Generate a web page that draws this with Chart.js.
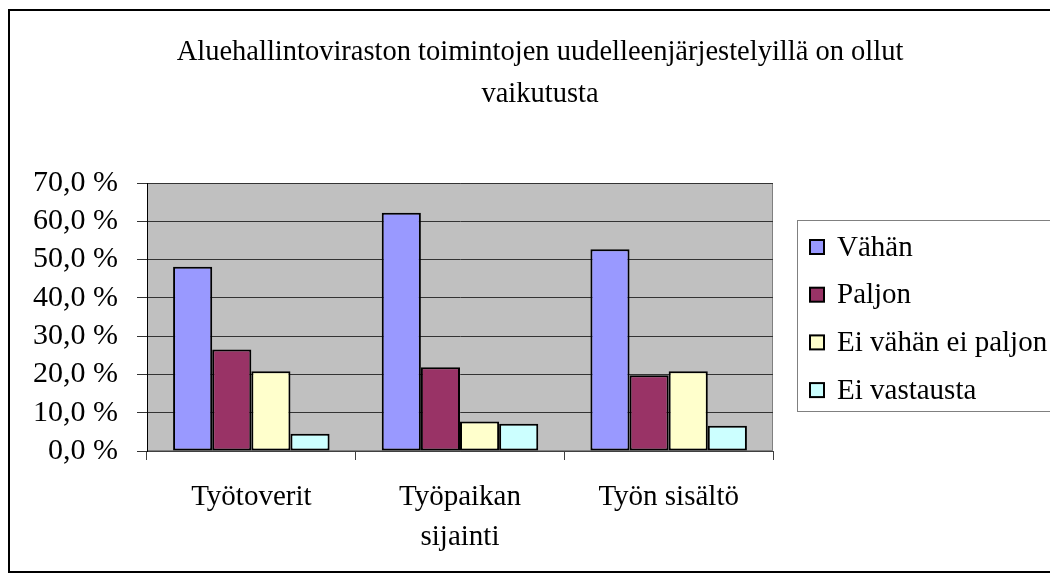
<!DOCTYPE html>
<html>
<head>
<meta charset="utf-8">
<script src="https://cdn.jsdelivr.net/npm/chart.js@4.4.0/dist/chart.umd.min.js"></script>
<style>
  html, body { margin: 0; padding: 0; background: #fff; overflow: hidden; }
  #frame { position: absolute; left: 8px; top: 9px; width: 1100px; height: 560px; border: 2px solid #000; }
  #wrap { position: absolute; left: 0; top: 0; width: 1064px; height: 560px; }
</style>
</head>
<body>
<div id="frame"><div id="wrap"><canvas id="chart"></canvas></div></div>
<script>
// Kategoriat ja sarjat
const categories = ['Työtoverit', ['Työpaikan', 'sijainti'], 'Työn sisältö'];
const seriesNames = ['Vähän', 'Paljon', 'Ei vähän ei paljon', 'Ei vastausta'];
const vahan = [48.1, 62.2, 52.7];
const paljon = [26.5, 21.9, 19.8];
const eiVahanEiPaljon = [20.8, 7.7, 20.8];
const eiVastausta = [4.5, 7.1, 6.6];
const yTicks = [0, 10, 20, 30, 40, 50, 60, 70];
const titleLines = ['Aluehallintoviraston toimintojen uudelleenjärjestelyillä on ollut', 'vaikutusta'];

const colors = ['#9999FF', '#993366', '#FFFFCC', '#CCFFFF'];
const serif = '"Liberation Serif", "Times New Roman", serif';

// Harmaa piirtoalue
const plotBg = {
  id: 'plotBg',
  beforeDraw(chart) {
    const a = chart.chartArea, ctx = chart.ctx;
    ctx.save();
    ctx.fillStyle = '#C0C0C0';
    ctx.fillRect(a.left, a.top, a.right - a.left, a.bottom - a.top);
    ctx.strokeStyle = '#808080';
    ctx.lineWidth = 1;
    ctx.strokeRect(a.left + 0.5, a.top + 0.5, a.right - a.left - 1, a.bottom - a.top - 1);
    ctx.restore();
  }
};

// Otsikko koko kuvion keskelle (selitteen tila mukaan lukien)
const centeredTitle = {
  id: 'centeredTitle',
  afterDraw(chart) {
    const ctx = chart.ctx;
    ctx.save();
    ctx.fillStyle = '#000';
    ctx.font = '28.5px ' + serif;
    ctx.textAlign = 'center';
    ctx.textBaseline = 'alphabetic';
    titleLines.forEach((t, i) => ctx.fillText(t, 530, 49 + i * 42));
    ctx.restore();
  }
};

// Oma selite laatikossa
const boxLegend = {
  id: 'boxLegend',
  afterDraw(chart) {
    const ctx = chart.ctx;
    const x = 787, y = 209, w = 400, h = 191;
    ctx.save();
    ctx.fillStyle = '#fff';
    ctx.fillRect(x, y, w, h);
    ctx.strokeStyle = '#808080';
    ctx.lineWidth = 1;
    ctx.strokeRect(x + 0.5, y + 0.5, w, h);
    ctx.font = '29px ' + serif;
    ctx.textBaseline = 'middle';
    chart.data.datasets.forEach((ds, i) => {
      const cy = 236 + i * 47.7;
      ctx.fillStyle = ds.backgroundColor;
      ctx.fillRect(800, cy - 7, 14, 14);
      ctx.strokeStyle = '#000';
      ctx.lineWidth = 2;
      ctx.strokeRect(800, cy - 7, 14, 14);
      ctx.fillStyle = '#000';
      ctx.fillText(ds.label, 827, cy + 1);
    });
    ctx.restore();
  }
};

const seriesData = [vahan, paljon, eiVahanEiPaljon, eiVastausta];

new Chart(document.getElementById('chart'), {
  type: 'bar',
  data: {
    labels: categories,
    datasets: seriesNames.map((name, i) => ({
      label: name,
      data: seriesData[i],
      backgroundColor: colors[i],
      borderColor: '#000',
      borderWidth: 2,
      borderSkipped: false,
      barPercentage: 1,
      categoryPercentage: 0.75
    }))
  },
  options: {
    responsive: true,
    maintainAspectRatio: false,
    animation: false,
    layout: { padding: { left: 0, right: 301, top: 172, bottom: 0 } },
    plugins: {
      legend: { display: false },
      tooltip: { enabled: false },
      title: { display: false }
    },
    scales: {
      x: {
        offset: true,
        grid: { offset: true, drawOnChartArea: false, drawTicks: true, tickLength: 9, color: '#404040' },
        border: { display: true, color: '#404040' },
        ticks: { color: '#000', padding: 17, font: { family: serif, size: 29, lineHeight: 1.38 } },
        afterFit(scale) { scale.height = 120; }
      },
      y: {
        min: 0,
        max: 70,
        afterBuildTicks(scale) { scale.ticks = yTicks.map(v => ({ value: v })); },
        grid: { color: '#333', tickLength: 10 },
        border: { display: true, color: '#000' },
        ticks: {
          color: '#000',
          padding: 19,
          autoSkip: false,
          font: { family: serif, size: 30 },
          callback: v => v.toFixed(1).replace('.', ',') + ' %'
        },
        afterFit(scale) { scale.width = 137; }
      }
    }
  },
  plugins: [plotBg, centeredTitle, boxLegend]
});
</script>
</body>
</html>
